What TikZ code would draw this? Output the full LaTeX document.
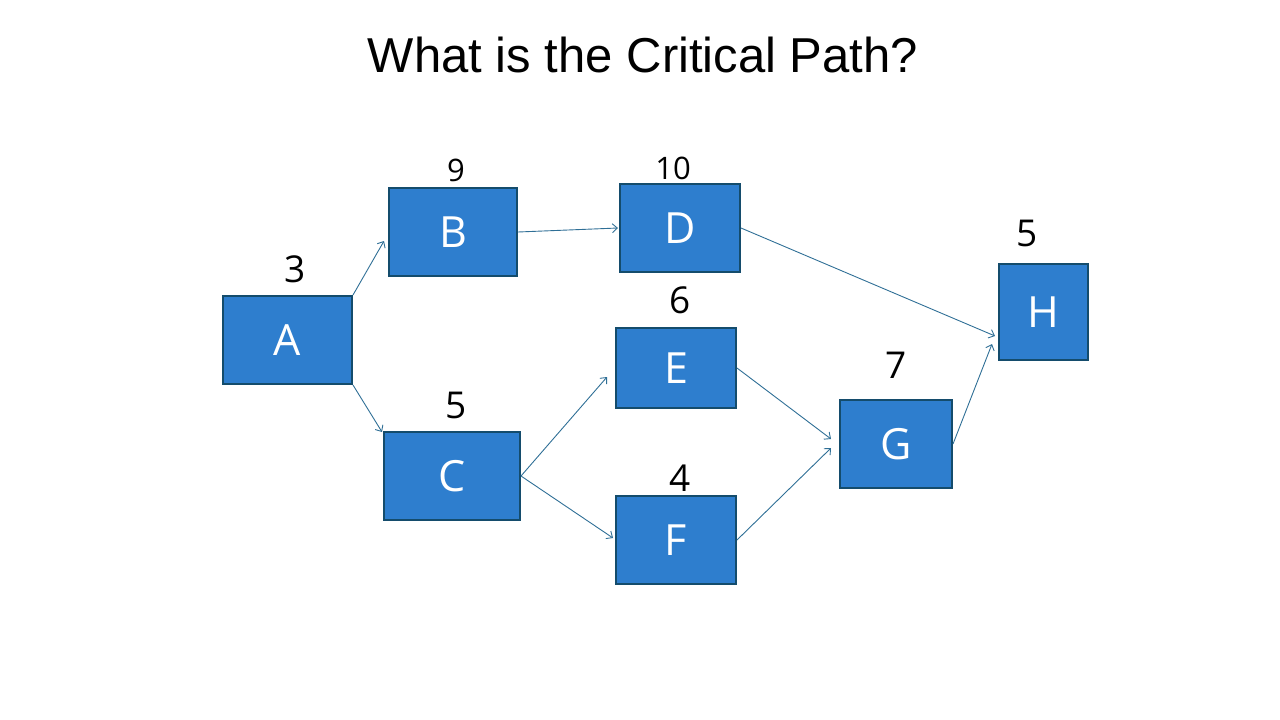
\documentclass[tikz,border=0pt]{standalone}
\usepackage{fontspec}
\setmainfont{Liberation Sans}
\newfontfamily\lblfont{Open Sans}
\usetikzlibrary{arrows.meta}
\definecolor{boxfill}{HTML}{2E7ECE}
\definecolor{boxline}{HTML}{144C6C}
\definecolor{arrowc}{HTML}{2F6F96}
\tikzset{
  task/.style={draw=boxline, line width=2pt, fill=boxfill, text=white, inner sep=0pt,
    font=\lblfont\fontsize{43}{43}\selectfont},
  dur/.style={inner sep=0pt, text=black, font=\lblfont\fontsize{37}{37}\selectfont},
  dursmall/.style={inner sep=0pt, text=black, font=\lblfont\fontsize{31}{31}\selectfont},
  link/.style={draw=arrowc, line width=0.9pt, -{Straight Barb[length=5pt,width=9pt,line width=0.9pt]}}
}
\begin{document}
\begin{tikzpicture}[x=1pt,y=-1pt]
\useasboundingbox (0,0) rectangle (1280,720);
\node[inner sep=0pt, font=\fontsize{49}{49}\selectfont] (title) at (643,55) {What is the Critical Path?};

\node[task, minimum width=129pt, minimum height=88pt] (A) at (287.5,340) {A};
\node[task, minimum width=128pt, minimum height=88pt] (B) at (453,232) {B};
\node[task, minimum width=120pt, minimum height=88pt] (D) at (680,228) {D};
\node[task, minimum width=136pt, minimum height=88pt] (C) at (452,476) {C};
\node[task, minimum width=120pt, minimum height=80pt] (E) at (676,368) {E};
\node[task, minimum width=120pt, minimum height=88pt] (F) at (676,540) {F};
\node[task, minimum width=112pt, minimum height=88pt] (G) at (896,444) {G};
\node[task, minimum width=89pt, minimum height=96pt] (H) at (1043.5,312) {H};

\node[dur] (dA) at (295,269) {3};
\node[dursmall] (dB) at (456,170) {9};
\node[dursmall] (dD) at (673,168) {10};
\node[dur] (dC) at (456,405) {5};
\node[dur] (dE) at (680,300) {6};
\node[dur] (dF) at (680,478) {4};
\node[dur] (dG) at (896,365) {7};
\node[dur] (dH) at (1027,233) {5};

\draw[link] (A.north east) -- ([xshift=-4pt,yshift=-9pt]B.west);
\draw[link] (A.south east) -- ([xshift=-1pt,yshift=-1pt]C.north west);
\draw[link] (B.east) -- ([xshift=-1pt]D.west);
\draw[link] (C.east) -- ([xshift=-8pt,yshift=-9pt]E.west);
\draw[link] (C.east) -- ([xshift=-2pt,yshift=2pt]F.west);
\draw[link] (D.east) -- ([xshift=-3pt,yshift=-24pt]H.west);
\draw[link] (E.east) -- ([xshift=-8pt,yshift=5pt]G.west);
\draw[link] (F.east) -- ([xshift=-8pt,yshift=-4pt]G.west);
\draw[link] (G.east) -- ([xshift=-6pt,yshift=-32pt]H.west);
\end{tikzpicture}
\end{document}
